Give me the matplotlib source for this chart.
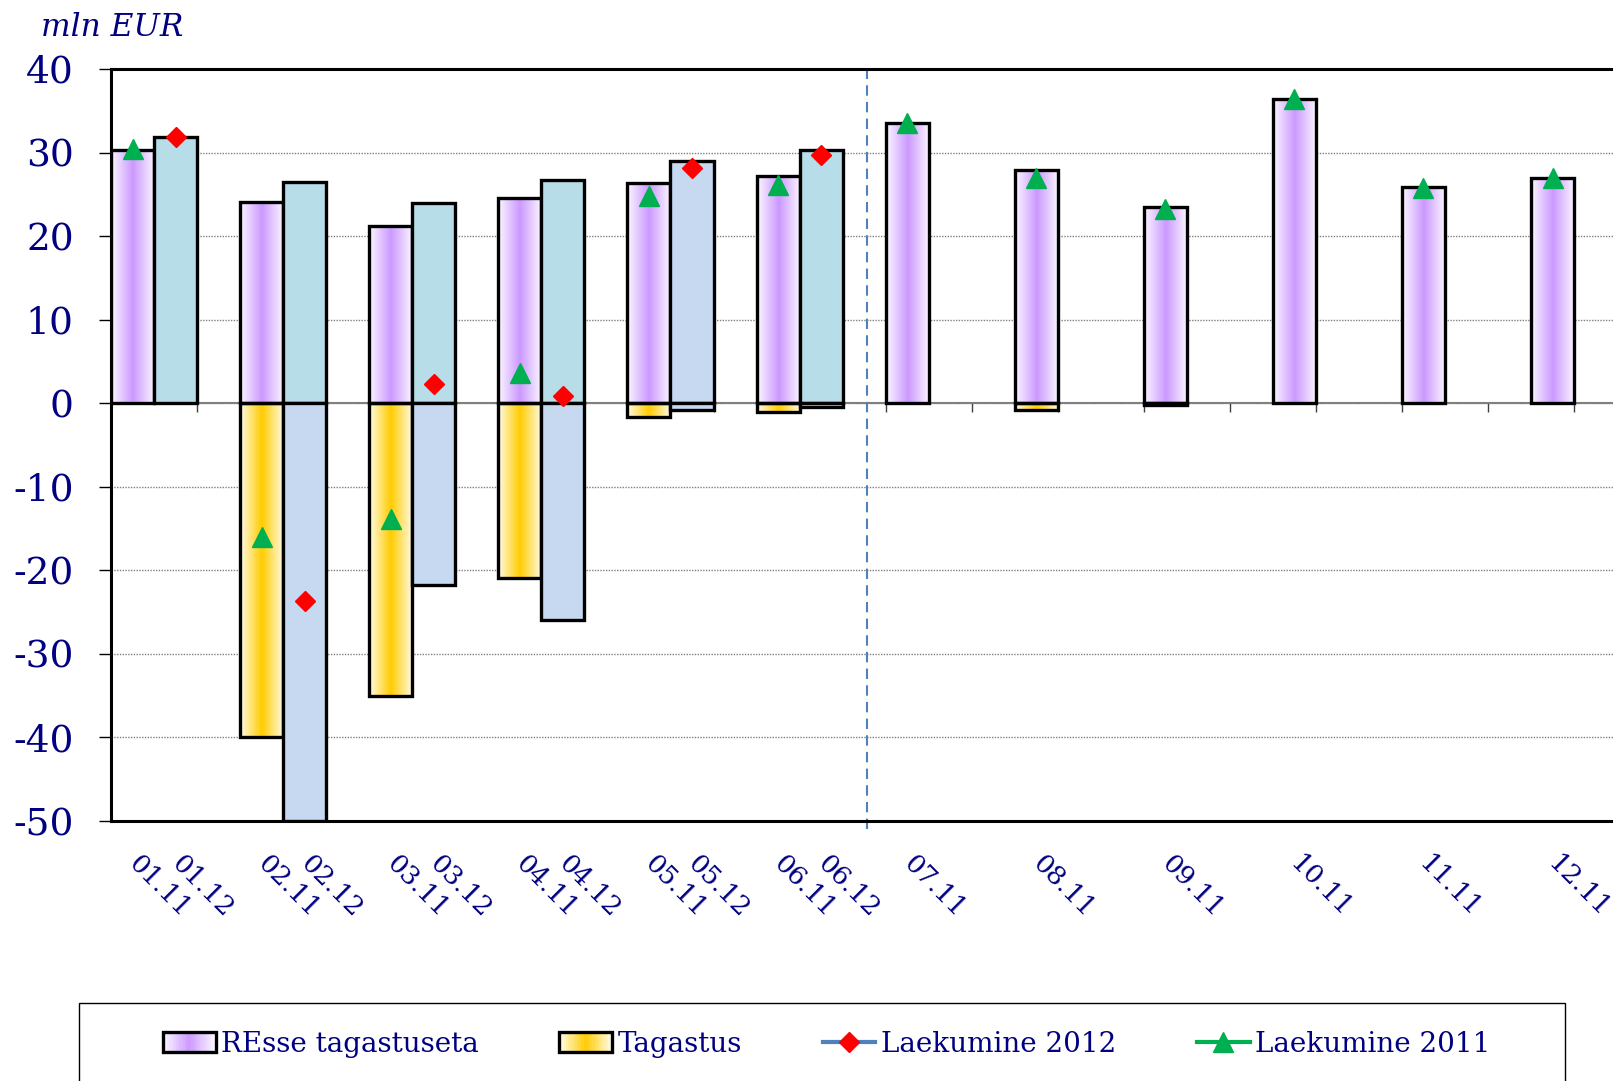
import numpy as np
import matplotlib
matplotlib.use('Agg')
import matplotlib.pyplot as plt
import matplotlib.colors as mcolors
from matplotlib.patches import Rectangle, Patch
from matplotlib.lines import Line2D
from matplotlib.legend_handler import HandlerBase

# data (mln EUR)
months = ['01', '02', '03', '04', '05', '06', '07', '08', '09', '10', '11', '12']
resse_2011 = [30.3, 24.1, 21.2, 24.5, 26.4, 27.2, 33.5, 27.9, 23.5, 36.4, 25.9, 27.0]
tagastus_2011 = [0, -40.0, -35.0, -20.9, -1.7, -1.1, 0, -0.8, -0.2, 0, 0, 0]
resse_2012 = [31.9, 26.5, 24.0, 26.7, 29.0, 30.3]
tagastus_2012 = [0, -50.0, -21.7, -25.9, -0.8, -0.4]
laekumine_2012 = [31.9, -23.7, 2.3, 0.9, 28.1, 29.7]
laekumine_2011 = [30.4, -16.0, -13.8, 3.6, 24.8, 26.1, 33.5, 27.0, 23.2, 36.4, 25.8, 27.0]

labels_2011 = [m + '.11' for m in months]
labels_2012 = [m + '.12' for m in months[:6]]

NAVY = '#000080'
PURPLE = ('#CC99FF', '#FBF7FF')
YELLOW = ('#FFCC00', '#FFFBE6')
TEAL = '#B7DEE8'
LIGHTBLUE = '#C6D9F1'
colors_2012 = [TEAL, TEAL, TEAL, TEAL, LIGHTBLUE, TEAL]
SPLIT_X = 17.57

plt.rcParams['font.family'] = ['DejaVu Serif']


def gradient_colors(center, edge, n=64):
    c = np.array(mcolors.to_rgb(center))
    e = np.array(mcolors.to_rgb(edge))
    w = 1 - np.abs(np.linspace(-1, 1, n))
    return e + (c - e) * w[:, None]


def gradient_bars(ax, x, heights, center, edge):
    keep = [(xi, h) for xi, h in zip(x, heights) if h != 0]
    xs, hs = zip(*keep)
    bars = ax.bar(xs, hs, width=1.0, facecolor='none', edgecolor='black',
                  linewidth=2.4, zorder=3)
    img = gradient_colors(center, edge)[None, :, :]
    for r in bars:
        x0, y0 = r.get_xy()
        ax.imshow(img, extent=(x0, x0 + r.get_width(), y0, y0 + r.get_height()),
                  aspect='auto', interpolation='bilinear', zorder=2.5)
    return bars


class GradientHandler(HandlerBase):
    def __init__(self, center, edge):
        super().__init__()
        self.cols = gradient_colors(center, edge, 24)

    def create_artists(self, legend, orig_handle, xdescent, ydescent,
                       width, height, fontsize, trans):
        n = len(self.cols)
        arts = [Rectangle((-xdescent + i * width / n, -ydescent), width / n * 1.1, height,
                          facecolor=c, edgecolor='none', transform=trans)
                for i, c in enumerate(self.cols)]
        arts.append(Rectangle((-xdescent, -ydescent), width, height, fill=False,
                              edgecolor='black', lw=2.4, transform=trans))
        return arts


fig = plt.figure(figsize=(16.13, 10.81), dpi=100)
ax = fig.add_axes([0.0689, 0.2405, 0.9603, 0.6957])

x11 = np.arange(len(months)) * 3 + 0.5
x12 = np.arange(len(resse_2012)) * 3 + 1.5

gradient_bars(ax, x11, resse_2011, *PURPLE)
gradient_bars(ax, x11, tagastus_2011, *YELLOW)
ax.bar(x12, resse_2012, width=1.0, color=colors_2012, edgecolor='black', linewidth=2.4, zorder=3)
neg12 = [(xi, h) for xi, h in zip(x12, tagastus_2012) if h != 0]
ax.bar([p[0] for p in neg12], [p[1] for p in neg12], width=1.0, color=LIGHTBLUE,
       edgecolor='black', linewidth=2.4, zorder=3)

ax.plot(x12, laekumine_2012, ls='none', marker='D', ms=10, color='#FF0000', zorder=6)
ax.plot(x11, laekumine_2011, ls='none', marker='^', ms=14, color='#00B050', zorder=6)

# axes styling
ax.set_xlim(0, 36)
ax.set_ylim(-50, 40)
ax.set_yticks(range(-50, 41, 10))
ax.set_yticklabels([str(v) for v in range(-50, 41, 10)], fontsize=27, color=NAVY)
ax.tick_params(axis='y', direction='out', length=9, width=1, pad=18)
ax.grid(axis='y', color='#808080', linestyle=(0, (1, 1)), linewidth=1, zorder=0.5)
ax.set_axisbelow(True)
ax.axhline(0, color='#808080', lw=1.5, zorder=1.5)
ax.vlines(np.arange(0, 37, 2), -1, 0, color='#404040', lw=1, zorder=1)
ax.axvline(SPLIT_X, ymin=-0.01, color='#4F81BD', lw=1.5, ls=(0, (5, 3)), zorder=1.8, clip_on=False)
for s in ax.spines.values():
    s.set_linewidth(2.2)
    s.set_color('black')

pos = list(x11[:6]) + list(x12) + list(x11[6:])
labs = labels_2011[:6] + labels_2012 + labels_2011[6:]
ax.set_xticks(pos)
ax.set_xticklabels(labs, fontsize=19, color=NAVY)
ax.tick_params(axis='x', length=0, pad=28)
plt.setp(ax.get_xticklabels(), rotation=-45, ha='left', va='center', rotation_mode='anchor')

fig.text(0.0254, 0.975, 'mln EUR', fontsize=22.5, style='italic', color=NAVY,
         ha='left', va='center')

# legend
fig.patches.append(Rectangle((79 / 1613, -0.05), (1565 - 79) / 1613, (1081 - 1003) / 1081 + 0.05,
                             transform=fig.transFigure, fill=False, edgecolor='black', lw=1))
h1 = Patch()
h2 = Patch()
h3 = Line2D([], [], color='#4F81BD', lw=3, marker='D', ms=10, mfc='#FF0000', mec='#FF0000')
h4 = Line2D([], [], color='#00B050', lw=3, marker='^', ms=14, mfc='#00B050', mec='#00B050')
fig.legend([h1, h2, h3, h4], ['REsse tagastuseta', 'Tagastus', 'Laekumine 2012', 'Laekumine 2011'],
           handler_map={h1: GradientHandler(*PURPLE), h2: GradientHandler(*YELLOW)},
           loc='center', bbox_to_anchor=(0.5125, 1 - 1044 / 1081), ncol=4, frameon=False,
           columnspacing=2.9, handletextpad=0.2, handlelength=1.9,
           prop={'size': 20}, labelcolor=NAVY)

fig.savefig('out.png', dpi=100)
